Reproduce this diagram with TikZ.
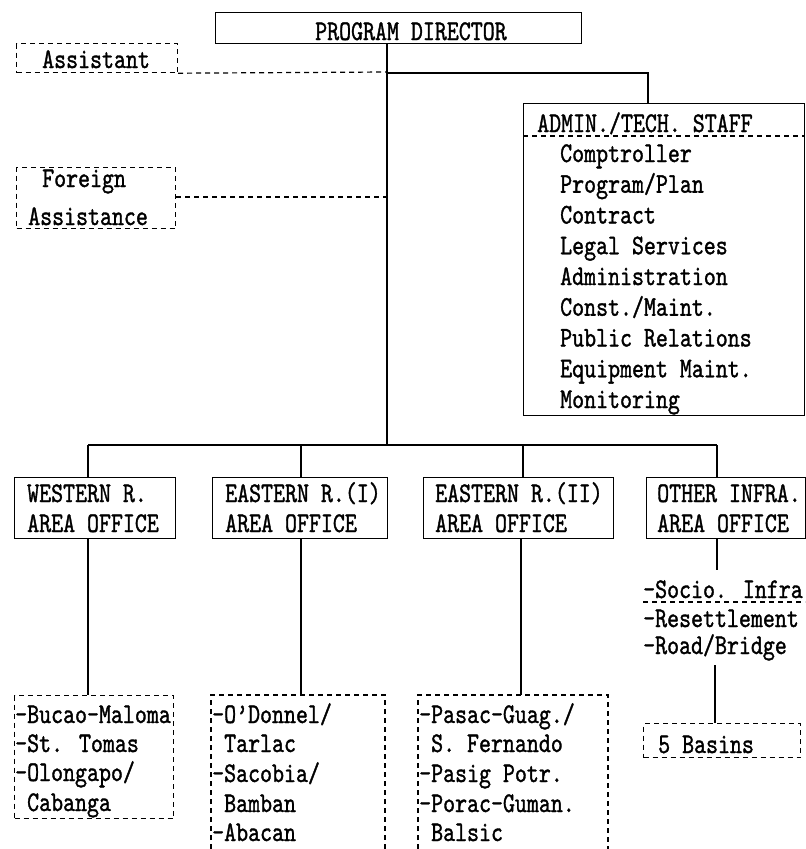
\documentclass[tikz,border=0pt]{standalone}
\usepackage{fontspec}
\setmainfont{lmmono10-regular.otf}[FakeStretch=0.80,FakeBold=1.2]
\begin{document}
\begin{tikzpicture}[x=1pt,y=-1pt,
  solidbox/.style={draw,line width=1.3pt,inner sep=0pt,anchor=north west},
  dashbox/.style={draw,line width=1.2pt,dash pattern=on 5pt off 4pt,inner sep=0pt,anchor=north west},
  link/.style={line width=1.8pt},
  dlink/.style={line width=1.2pt,dash pattern=on 5pt off 4pt},
  txt/.style={anchor=base west,inner sep=0pt,font=\fontsize{28.5}{30}\selectfont}]
\useasboundingbox (0,0) rectangle (806,849);
% program director
\node[solidbox,minimum width=366pt,minimum height=31pt] (pd) at (215,12) {};
\node[txt] (pdt) at (315,40) {PROGRAM DIRECTOR};
% assistant
\node[dashbox,minimum width=161pt,minimum height=29pt] (as) at (16,43) {};
\node[txt] (ast) at (42,68) {Assistant};
% foreign assistance
\node[dashbox,minimum width=159pt,minimum height=61pt] (fa) at (16,167) {};
\node[txt] (fat1) at (42,187) {Foreign};
\node[txt] (fat2) at (28,225) {Assistance};
% admin / tech staff
\node[solidbox,minimum width=281pt,minimum height=312pt] (ad) at (523,103) {};
\node[txt] (adh) at (537,132) {ADMIN./TECH. STAFF};
\draw[dlink] (ad.north west |- 0,136) -- (ad.north east |- 0,136);
\foreach \t [count=\i from 0] in {Comptroller,Program/Plan,Contract,Legal Services,Administration,Const./Maint.,Public Relations,Equipment Maint.,Monitoring}
  \node[txt] (adi\i) at (560,162+30.75*\i) {\t};
% junctions
\coordinate (jm) at (387,445);
\coordinate (ja) at (387,72);
\coordinate (jf) at (387,197);
\coordinate (jt) at (648,73);
% main trunk
\draw[link] (pd.south -| jm) -- (jm);
\draw[dlink] (as.south east) -- (ja);
\draw[line width=1.1pt] (jt -| jm) -- (jt) -- (ad.north west -| jt);
\draw[dlink] (fa.east |- jf) -- (jf);
% offices
\node[solidbox,minimum width=161pt,minimum height=61pt] (w) at (14,477) {};
\node[solidbox,minimum width=175pt,minimum height=61pt] (e1) at (212,477) {};
\node[solidbox,minimum width=190pt,minimum height=61pt] (e2) at (423,477) {};
\node[solidbox,minimum width=159pt,minimum height=61pt] (oi) at (646,477) {};
\node[txt] (wt1) at (27,502) {WESTERN R.};
\node[txt] (wt2) at (27,532) {AREA OFFICE};
\node[txt] (e1t1) at (225,502) {EASTERN R.(I)};
\node[txt] (e1t2) at (225,532) {AREA OFFICE};
\node[txt] (e2t1) at (435,502) {EASTERN R.(II)};
\node[txt] (e2t2) at (435,532) {AREA OFFICE};
\node[txt] (oit1) at (657,502) {OTHER INFRA.};
\node[txt] (oit2) at (657,532) {AREA OFFICE};
\coordinate (bw) at (88,445);
\coordinate (be1) at (301,445);
\coordinate (be2) at (523,445);
\coordinate (boi) at (717,445);
\draw[link] (bw) -- (boi);
\draw[link] (bw) -- (w.north -| bw);
\draw[link] (be1) -- (e1.north -| be1);
\draw[link] (be2) -- (e2.north -| be2);
\draw[link] (boi) -- (oi.north -| boi);
% bottom lists
\node[dashbox,minimum width=159pt,minimum height=123pt] (wl) at (14,695) {};
\draw[dlink] (211,849) -- (211,695) coordinate (e1l) -- (385,695) -- (385,849);
\draw[dlink] (418,849) -- (418,695) coordinate (e2l) -- (608,695) -- (608,849);
\draw[link] (w.south -| bw) -- (wl.north -| bw);
\draw[link] (e1.south -| be1) -- (be1 |- e1l);
\draw[link] (e2.south -| 521,0) -- (521,695);
\node[txt] (wl1) at (15,723) {-Bucao-Maloma};
\node[txt] (wl2) at (15,752) {-St. Tomas};
\node[txt] (wl3) at (15,781) {-Olongapo/};
\node[txt] (wl4) at (15,811) {\ Cabanga};
\node[txt] (el1) at (212,723) {-O'Donnel/};
\node[txt] (el2) at (212,752) {\ Tarlac};
\node[txt] (el3) at (212,782) {-Sacobia/};
\node[txt] (el4) at (212,812) {\ Bamban};
\node[txt] (el5) at (212,841) {-Abacan};
\node[txt] (fl1) at (419,723) {-Pasac-Guag./};
\node[txt] (fl2) at (419,752) {\ S. Fernando};
\node[txt] (fl3) at (419,782) {-Pasig Potr.};
\node[txt] (fl4) at (419,812) {-Porac-Guman.};
\node[txt] (fl5) at (419,841) {\ Balsic};
% other infra list
\coordinate (os) at (717,570);
\draw[link] (oi.south -| os) -- (os);
\node[txt] (ol1) at (643,598) {-Socio. Infra};
\draw[dlink] (643,602) -- (805,602);
\node[txt] (ol2) at (643,627) {-Resettlement};
\node[txt] (ol3) at (643,654) {-Road/Bridge};
\node[dashbox,minimum width=157pt,minimum height=34pt] (bs) at (643,723) {};
\node[txt] (bst) at (658,753) {5 Basins};
\draw[link] (715,665) -- (bs.north -| 715,0);
\end{tikzpicture}
\end{document}
